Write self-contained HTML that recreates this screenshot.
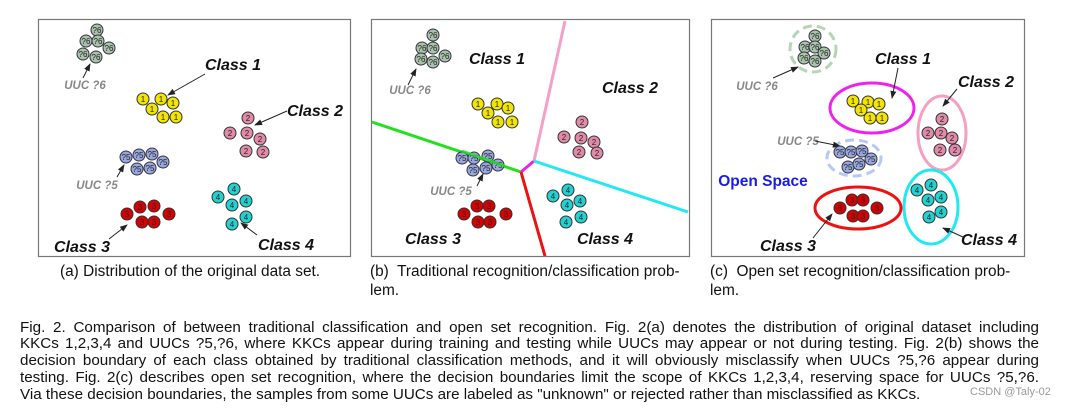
<!DOCTYPE html>
<html><head><meta charset="utf-8"><style>
body{margin:0;width:1080px;height:409px;background:#fff;overflow:hidden;position:relative;font-family:"Liberation Sans",sans-serif}
svg{position:absolute;left:0;top:0}
.ln{position:absolute;left:20px;width:1019px;font-size:15.2px;line-height:16px;color:#111;text-align:justify;text-align-last:justify;white-space:nowrap}
.ln.last{text-align-last:left}
.cap{position:absolute;font-size:15.4px;color:#111;line-height:19px}
.wm{position:absolute;left:970px;top:386px;font-size:11px;color:#999}
</style></head><body>
<svg width="1080" height="260" viewBox="0 0 1080 260" font-family="Liberation Sans, sans-serif">
<defs>
<marker id="ar" markerWidth="8" markerHeight="8" refX="7" refY="4" orient="auto" markerUnits="userSpaceOnUse"><path d="M0,1 L8,4 L0,7 z" fill="#222"/></marker>
<style>
.c6{fill:#a9c2a9;stroke:#334;stroke-width:1}
.c1{fill:#f2e600;stroke:#333;stroke-width:1}
.c2{fill:#e28aa9;stroke:#333;stroke-width:1}
.c5{fill:#98a7dc;stroke:#334;stroke-width:1}
.c3{fill:#d80000;stroke:#333;stroke-width:1}
.c4{fill:#22d2d2;stroke:#333;stroke-width:1}
.n{font-size:8px;text-anchor:middle;fill:#222}
.lb{font-size:16px;font-weight:bold;font-style:italic;text-anchor:middle;fill:#111}
.uu{font-size:11.5px;font-weight:bold;font-style:italic;text-anchor:middle;fill:#888}
.a{stroke:#222;stroke-width:1;marker-end:url(#ar)}
</style>
</defs>
<rect x="38.5" y="19.5" width="312" height="237" fill="none" stroke="#777" stroke-width="1.2"/>
<rect x="371.5" y="19.5" width="318" height="237" fill="none" stroke="#777" stroke-width="1.2"/>
<rect x="711.5" y="19.5" width="313" height="237" fill="none" stroke="#777" stroke-width="1.2"/>

<!-- Panel A -->
<g>
<circle class="c6" cx="97" cy="30" r="6"/><text class="n" x="97" y="33">?6</text>
<circle class="c6" cx="86" cy="41" r="6"/><text class="n" x="86" y="44">?6</text>
<circle class="c6" cx="98" cy="41" r="6"/><text class="n" x="98" y="44">?6</text>
<circle class="c6" cx="109" cy="48" r="6"/><text class="n" x="109" y="51">?6</text>
<circle class="c6" cx="83" cy="54" r="6"/><text class="n" x="83" y="57">?6</text>
<circle class="c6" cx="96" cy="57" r="6"/><text class="n" x="96" y="60">?6</text>
<text class="uu" x="85" y="89">UUC ?6</text><line class="a" x1="83" y1="78" x2="90" y2="64"/>
<text class="lb" x="233" y="70">Class 1</text><line class="a" x1="205" y1="74" x2="168" y2="95"/>
<circle class="c1" cx="143" cy="99" r="6"/><text class="n" x="143" y="102">1</text>
<circle class="c1" cx="161" cy="99" r="6"/><text class="n" x="161" y="102">1</text>
<circle class="c1" cx="173" cy="103" r="6"/><text class="n" x="173" y="106">1</text>
<circle class="c1" cx="152" cy="109" r="6"/><text class="n" x="152" y="112">1</text>
<circle class="c1" cx="163" cy="117" r="6"/><text class="n" x="163" y="120">1</text>
<circle class="c1" cx="176" cy="117" r="6"/><text class="n" x="176" y="120">1</text>
<text class="lb" x="315" y="116">Class 2</text><line class="a" x1="287" y1="111" x2="255" y2="125"/>
<circle class="c2" cx="248" cy="118" r="6"/><text class="n" x="248" y="121">2</text>
<circle class="c2" cx="230" cy="133" r="6"/><text class="n" x="230" y="136">2</text>
<circle class="c2" cx="247" cy="133" r="6"/><text class="n" x="247" y="136">2</text>
<circle class="c2" cx="260" cy="139" r="6"/><text class="n" x="260" y="142">2</text>
<circle class="c2" cx="246" cy="151" r="6"/><text class="n" x="246" y="154">2</text>
<circle class="c2" cx="263" cy="152" r="6"/><text class="n" x="263" y="155">2</text>
<circle class="c5" cx="126" cy="157" r="6"/><text class="n" x="126" y="160">?5</text>
<circle class="c5" cx="139" cy="155" r="6"/><text class="n" x="139" y="158">?5</text>
<circle class="c5" cx="152" cy="154" r="6"/><text class="n" x="152" y="157">?5</text>
<circle class="c5" cx="163" cy="162" r="6"/><text class="n" x="163" y="165">?5</text>
<circle class="c5" cx="137" cy="169" r="6"/><text class="n" x="137" y="172">?5</text>
<circle class="c5" cx="150" cy="168" r="6"/><text class="n" x="150" y="171">?5</text>
<text class="uu" x="97" y="189">UUC ?5</text><line class="a" x1="117" y1="177" x2="124" y2="165"/>
<circle class="c3" cx="127" cy="214" r="6"/><text class="n" x="127" y="217">3</text>
<circle class="c3" cx="140" cy="207" r="6"/><text class="n" x="140" y="210">3</text>
<circle class="c3" cx="154" cy="206" r="6"/><text class="n" x="154" y="209">3</text>
<circle class="c3" cx="169" cy="214" r="6"/><text class="n" x="169" y="217">3</text>
<circle class="c3" cx="142" cy="222" r="6"/><text class="n" x="142" y="225">3</text>
<circle class="c3" cx="154" cy="222" r="6"/><text class="n" x="154" y="225">3</text>
<text class="lb" x="82" y="252">Class 3</text><line class="a" x1="109" y1="239" x2="127" y2="225"/>
<circle class="c4" cx="218" cy="197" r="6"/><text class="n" x="218" y="200">4</text>
<circle class="c4" cx="234" cy="189" r="6"/><text class="n" x="234" y="192">4</text>
<circle class="c4" cx="232" cy="205" r="6"/><text class="n" x="232" y="208">4</text>
<circle class="c4" cx="246" cy="201" r="6"/><text class="n" x="246" y="204">4</text>
<circle class="c4" cx="246" cy="217" r="6"/><text class="n" x="246" y="220">4</text>
<circle class="c4" cx="232" cy="224" r="6"/><text class="n" x="232" y="227">4</text>
<text class="lb" x="286" y="250">Class 4</text><line class="a" x1="257" y1="235" x2="241" y2="223"/>
</g>

<!-- Panel B -->
<g>
<line x1="372" y1="122" x2="521" y2="172" stroke="#22e022" stroke-width="3"/>
<line x1="521" y1="172" x2="534" y2="161" stroke="#ee22ee" stroke-width="3"/>
<line x1="534" y1="161" x2="565" y2="21" stroke="#f5a0c8" stroke-width="3"/>
<line x1="534" y1="161" x2="688" y2="212" stroke="#22e8f0" stroke-width="3"/>
<line x1="521" y1="172" x2="545" y2="256" stroke="#ee1111" stroke-width="3"/>
<circle class="c6" cx="433" cy="35" r="6"/><text class="n" x="433" y="38">?6</text>
<circle class="c6" cx="422" cy="48" r="6"/><text class="n" x="422" y="51">?6</text>
<circle class="c6" cx="433" cy="48" r="6"/><text class="n" x="433" y="51">?6</text>
<circle class="c6" cx="445" cy="56" r="6"/><text class="n" x="445" y="59">?6</text>
<circle class="c6" cx="421" cy="59" r="6"/><text class="n" x="421" y="62">?6</text>
<circle class="c6" cx="433" cy="62" r="6"/><text class="n" x="433" y="65">?6</text>
<text class="uu" x="410" y="94">UUC ?6</text><line class="a" x1="408" y1="85" x2="416" y2="69"/>
<text class="lb" x="497" y="64">Class 1</text>
<text class="lb" x="630" y="93">Class 2</text>
<text class="lb" x="433" y="244">Class 3</text>
<text class="lb" x="605" y="244">Class 4</text>
<circle class="c1" cx="478" cy="104" r="6"/><text class="n" x="478" y="107">1</text>
<circle class="c1" cx="497" cy="104" r="6"/><text class="n" x="497" y="107">1</text>
<circle class="c1" cx="508" cy="108" r="6"/><text class="n" x="508" y="111">1</text>
<circle class="c1" cx="488" cy="113" r="6"/><text class="n" x="488" y="116">1</text>
<circle class="c1" cx="498" cy="122" r="6"/><text class="n" x="498" y="125">1</text>
<circle class="c1" cx="512" cy="122" r="6"/><text class="n" x="512" y="125">1</text>
<circle class="c2" cx="582" cy="122" r="6"/><text class="n" x="582" y="125">2</text>
<circle class="c2" cx="564" cy="137" r="6"/><text class="n" x="564" y="140">2</text>
<circle class="c2" cx="581" cy="138" r="6"/><text class="n" x="581" y="141">2</text>
<circle class="c2" cx="594" cy="142" r="6"/><text class="n" x="594" y="145">2</text>
<circle class="c2" cx="579" cy="152" r="6"/><text class="n" x="579" y="155">2</text>
<circle class="c2" cx="597" cy="153" r="6"/><text class="n" x="597" y="156">2</text>
<circle class="c5" cx="462" cy="158" r="6"/><text class="n" x="462" y="161">?5</text>
<circle class="c5" cx="474" cy="158" r="6"/><text class="n" x="474" y="161">?5</text>
<circle class="c5" cx="488" cy="156" r="6"/><text class="n" x="488" y="159">?5</text>
<circle class="c5" cx="498" cy="165" r="6"/><text class="n" x="498" y="168">?5</text>
<circle class="c5" cx="473" cy="170" r="6"/><text class="n" x="473" y="173">?5</text>
<circle class="c5" cx="486" cy="168" r="6"/><text class="n" x="486" y="171">?5</text>
<line x1="462" y1="151" x2="505" y2="166" stroke="#22e022" stroke-width="3" opacity="0.8"/>
<text class="uu" x="451" y="195">UUC ?5</text><line class="a" x1="477" y1="186" x2="483" y2="174"/>
<circle class="c3" cx="464" cy="214" r="6"/><text class="n" x="464" y="217">3</text>
<circle class="c3" cx="477" cy="206" r="6"/><text class="n" x="477" y="209">3</text>
<circle class="c3" cx="489" cy="206" r="6"/><text class="n" x="489" y="209">3</text>
<circle class="c3" cx="506" cy="214" r="6"/><text class="n" x="506" y="217">3</text>
<circle class="c3" cx="478" cy="222" r="6"/><text class="n" x="478" y="225">3</text>
<circle class="c3" cx="490" cy="222" r="6"/><text class="n" x="490" y="225">3</text>
<circle class="c4" cx="553" cy="196" r="6"/><text class="n" x="553" y="199">4</text>
<circle class="c4" cx="568" cy="190" r="6"/><text class="n" x="568" y="193">4</text>
<circle class="c4" cx="567" cy="205" r="6"/><text class="n" x="567" y="208">4</text>
<circle class="c4" cx="580" cy="201" r="6"/><text class="n" x="580" y="204">4</text>
<circle class="c4" cx="581" cy="217" r="6"/><text class="n" x="581" y="220">4</text>
<circle class="c4" cx="566" cy="222" r="6"/><text class="n" x="566" y="225">4</text>
</g>

<!-- Panel C -->
<g>
<circle cx="813" cy="49" r="23" fill="none" stroke="#b5d5b5" stroke-width="3" stroke-dasharray="9,5"/>
<ellipse cx="872" cy="108" rx="42" ry="25" fill="none" stroke="#ee22ee" stroke-width="3"/>
<ellipse cx="942" cy="133" rx="24" ry="37" fill="none" stroke="#f5a0c0" stroke-width="3"/>
<ellipse cx="854" cy="158" rx="27" ry="18" fill="none" stroke="#b8c8f4" stroke-width="3" stroke-dasharray="9,5"/>
<ellipse cx="858" cy="208" rx="43" ry="21" fill="none" stroke="#ee1111" stroke-width="3"/>
<ellipse cx="931" cy="207" rx="27" ry="37" fill="none" stroke="#22e8f0" stroke-width="3"/>
<circle class="c6" cx="815" cy="36" r="6"/><text class="n" x="815" y="39">?6</text>
<circle class="c6" cx="805" cy="47" r="6"/><text class="n" x="805" y="50">?6</text>
<circle class="c6" cx="815" cy="47" r="6"/><text class="n" x="815" y="50">?6</text>
<circle class="c6" cx="824" cy="53" r="6"/><text class="n" x="824" y="56">?6</text>
<circle class="c6" cx="804" cy="58" r="6"/><text class="n" x="804" y="61">?6</text>
<circle class="c6" cx="815" cy="61" r="6"/><text class="n" x="815" y="64">?6</text>
<text class="uu" x="757" y="90">UUC ?6</text><line class="a" x1="773" y1="78" x2="798" y2="67"/>
<text class="lb" x="903" y="64">Class 1</text><line class="a" x1="898" y1="68" x2="892" y2="98"/>
<circle class="c1" cx="853" cy="101" r="6"/><text class="n" x="853" y="104">1</text>
<circle class="c1" cx="868" cy="102" r="6"/><text class="n" x="868" y="105">1</text>
<circle class="c1" cx="879" cy="104" r="6"/><text class="n" x="879" y="107">1</text>
<circle class="c1" cx="861" cy="110" r="6"/><text class="n" x="861" y="113">1</text>
<circle class="c1" cx="870" cy="118" r="6"/><text class="n" x="870" y="121">1</text>
<circle class="c1" cx="882" cy="118" r="6"/><text class="n" x="882" y="121">1</text>
<text class="lb" x="986" y="87">Class 2</text><line class="a" x1="957" y1="89" x2="943" y2="106"/>
<circle class="c2" cx="942" cy="119" r="6"/><text class="n" x="942" y="122">2</text>
<circle class="c2" cx="928" cy="133" r="6"/><text class="n" x="928" y="136">2</text>
<circle class="c2" cx="941" cy="133" r="6"/><text class="n" x="941" y="136">2</text>
<circle class="c2" cx="952" cy="138" r="6"/><text class="n" x="952" y="141">2</text>
<circle class="c2" cx="940" cy="150" r="6"/><text class="n" x="940" y="153">2</text>
<circle class="c2" cx="955" cy="150" r="6"/><text class="n" x="955" y="153">2</text>
<text class="uu" x="798" y="145">UUC ?5</text><line class="a" x1="815" y1="141" x2="840" y2="146"/>
<circle class="c5" cx="840" cy="152" r="6"/><text class="n" x="840" y="155">?5</text>
<circle class="c5" cx="851" cy="152" r="6"/><text class="n" x="851" y="155">?5</text>
<circle class="c5" cx="862" cy="151" r="6"/><text class="n" x="862" y="154">?5</text>
<circle class="c5" cx="871" cy="159" r="6"/><text class="n" x="871" y="162">?5</text>
<circle class="c5" cx="848" cy="167" r="6"/><text class="n" x="848" y="170">?5</text>
<circle class="c5" cx="859" cy="164" r="6"/><text class="n" x="859" y="167">?5</text>
<text x="763" y="186" font-size="15.5" font-weight="bold" fill="#1a1aee" text-anchor="middle">Open Space</text>
<circle class="c3" cx="840" cy="208" r="6"/><text class="n" x="840" y="211">3</text>
<circle class="c3" cx="852" cy="200" r="6"/><text class="n" x="852" y="203">3</text>
<circle class="c3" cx="863" cy="200" r="6"/><text class="n" x="863" y="203">3</text>
<circle class="c3" cx="877" cy="208" r="6"/><text class="n" x="877" y="211">3</text>
<circle class="c3" cx="853" cy="216" r="6"/><text class="n" x="853" y="219">3</text>
<circle class="c3" cx="863" cy="216" r="6"/><text class="n" x="863" y="219">3</text>
<text class="lb" x="788" y="251">Class 3</text><line class="a" x1="813" y1="238" x2="832" y2="214"/>
<circle class="c4" cx="917" cy="190" r="6"/><text class="n" x="917" y="193">4</text>
<circle class="c4" cx="931" cy="185" r="6"/><text class="n" x="931" y="188">4</text>
<circle class="c4" cx="928" cy="200" r="6"/><text class="n" x="928" y="203">4</text>
<circle class="c4" cx="941" cy="197" r="6"/><text class="n" x="941" y="200">4</text>
<circle class="c4" cx="929" cy="217" r="6"/><text class="n" x="929" y="220">4</text>
<circle class="c4" cx="941" cy="212" r="6"/><text class="n" x="941" y="215">4</text>
<text class="lb" x="989" y="245">Class 4</text><line class="a" x1="963" y1="237" x2="943" y2="228"/>
</g>
</svg>

<div class="cap" style="left:60px;top:262px">(a) Distribution of the original data set.</div>
<div class="cap" style="left:370px;top:262px;width:320px">(b)&nbsp; Traditional recognition/classification prob-<br>lem.</div>
<div class="cap" style="left:710px;top:262px;width:320px">(c)&nbsp; Open set recognition/classification prob-<br>lem.</div>

<div class="ln" style="top:320px">Fig. 2. Comparison of between traditional classification and open set recognition. Fig. 2(a) denotes the distribution of original dataset including</div>
<div class="ln" style="top:336px">KKCs 1,2,3,4 and UUCs ?5,?6, where KKCs appear during training and testing while UUCs may appear or not during testing. Fig. 2(b) shows the</div>
<div class="ln" style="top:353px">decision boundary of each class obtained by traditional classification methods, and it will obviously misclassify when UUCs ?5,?6 appear during</div>
<div class="ln" style="top:370px">testing. Fig. 2(c) describes open set recognition, where the decision boundaries limit the scope of KKCs 1,2,3,4, reserving space for UUCs ?5,?6.</div>
<div class="ln last" style="top:387px">Via these decision boundaries, the samples from some UUCs are labeled as "unknown" or rejected rather than misclassified as KKCs.</div>
<div class="wm">CSDN @Taly-02</div>
</body></html>
